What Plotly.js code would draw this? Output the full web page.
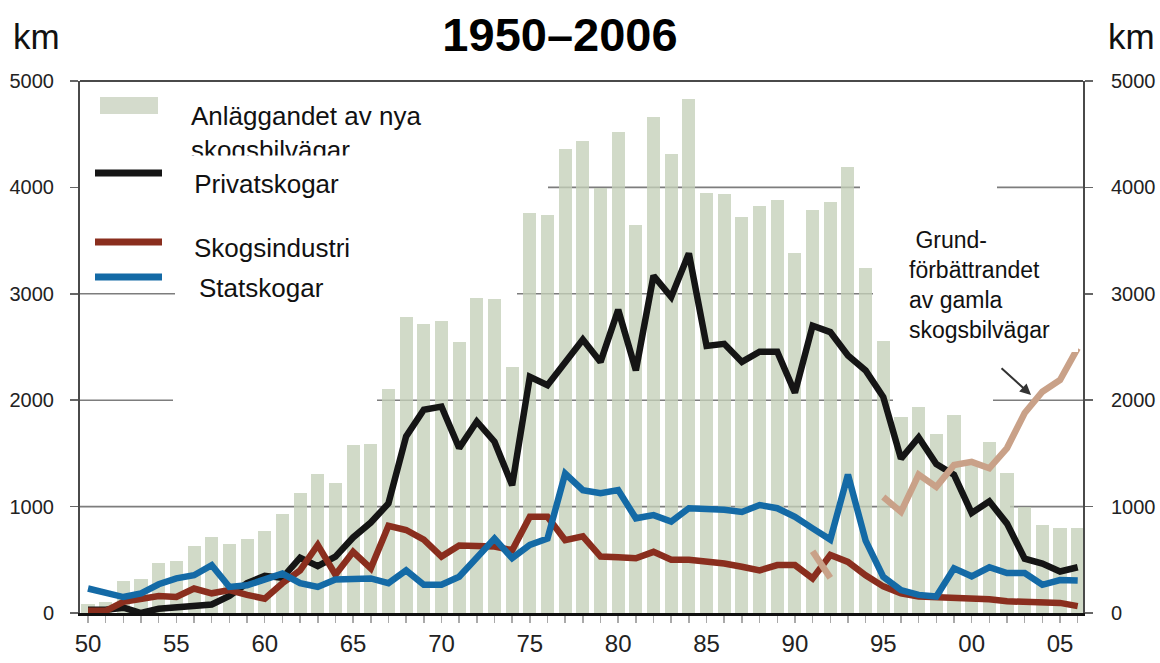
<!DOCTYPE html>
<html>
<head>
<meta charset="utf-8">
<script src="https://cdn.plot.ly/plotly-3.0.1.min.js"></script>
<style>html,body{margin:0;padding:0;background:#fff;}#chart{width:1160px;height:663px;}</style>
</head>
<body>
<div id="chart"></div>
<script>
// ---- data (km per year) ----
const years = [1950,1951,1952,1953,1954,1955,1956,1957,1958,1959,
  1960,1961,1962,1963,1964,1965,1966,1967,1968,1969,
  1970,1971,1972,1973,1974,1975,1976,1977,1978,1979,
  1980,1981,1982,1983,1984,1985,1986,1987,1988,1989,
  1990,1991,1992,1993,1994,1995,1996,1997,1998,1999,
  2000,2001,2002,2003,2004,2005,2006];

// Anläggandet av nya skogsbilvägar (bars)
const newRoads = [80,100,300,320,470,490,630,710,645,700,
  770,935,1125,1310,1225,1580,1590,2110,2785,2715,
  2740,2545,2965,2950,2315,3755,3740,4365,4435,3990,
  4525,3645,4660,4315,4830,3945,3940,3720,3825,3880,
  3380,3790,3865,4195,3240,2560,1840,1940,1680,1860,
  1400,1605,1315,995,830,795,795];

// Privatskogar
const privat = [30,30,50,0,40,50,60,80,160,280,
  350,330,520,440,530,710,850,1030,1660,1910,
  1940,1550,1800,1610,1200,2220,2140,2360,2570,2360,
  2850,2280,3170,2970,3380,2510,2530,2360,2455,2455,
  2070,2700,2640,2420,2280,2030,1450,1650,1400,1300,
  940,1050,840,510,465,390,430];

// Skogsindustri
const industri = [20,20,105,130,160,150,230,185,215,170,
  135,280,400,640,360,575,420,820,780,690,
  530,635,630,625,590,905,905,685,720,530,
  525,515,575,500,500,490,465,435,400,450,
  450,325,545,480,355,250,185,155,150,140,
  130,130,110,105,105,95,65];

// Statskogar
const stat = [230,185,150,185,270,325,355,450,245,260,
  310,370,280,245,315,325,325,280,400,265,
  265,340,530,700,515,640,700,1310,1155,1125,
  1155,890,920,860,985,985,970,950,1015,985,
  905,795,690,1300,680,340,215,170,155,420,
  345,430,375,375,265,310,305];

// Grundförbättrandet av gamla skogsbilvägar
const grund = [null,null,null,null,null,null,null,null,null,null,
  null,null,null,null,null,null,null,null,null,null,
  null,null,null,null,null,null,null,null,null,null,
  null,null,null,null,null,null,null,null,null,null,
  null,580,330,null,null,1090,950,1300,1185,1390,
  1420,1360,1550,1880,2080,2190,2490];

const yTicks = [0,1000,2000,3000,4000,5000];
const xTickText = years.map(y => (y % 5 === 0) ? String(y).slice(2) : '');

// ---- layout helpers (pixel -> paper) ----
const L = 80, R = 1083, T = 81, B = 613;
const X = px => (px - L) / (R - L);
const Y = py => (B - py) / (B - T);

const FONT = 'Liberation Sans, Arial, Helvetica, sans-serif';
const C_BLACK = '#151515', C_RED = '#8a2e1e', C_BLUE = '#146aa6', C_TAN = '#c9a188';
const C_BAR = 'rgba(196,207,184,0.78)';
const LW = 6.5;

const traces = [
  {type:'bar', x:years, y:newRoads, marker:{color:C_BAR, line:{width:0}}, width:0.74,
   hoverinfo:'x+y', name:'Anläggandet av nya skogsbilvägar'},
  {type:'scatter', mode:'lines', x:years, y:privat, line:{color:C_BLACK, width:LW}, name:'Privatskogar'},
  {type:'scatter', mode:'lines', x:years, y:industri, line:{color:C_RED, width:LW}, name:'Skogsindustri'},
  {type:'scatter', mode:'lines', x:years, y:stat, line:{color:C_BLUE, width:LW}, name:'Statskogar'},
  {type:'scatter', mode:'lines', x:years, y:grund, yaxis:'y2', connectgaps:false,
   line:{color:C_TAN, width:LW}, name:'Grundförbättrandet'}
];

// gridline segments (visible parts), x in pixel positions
const gridSegs = [
  [1000, [[80,900],[1010,1083]]],
  [2000, [[80,173],[377,893],[993,1083]]],
  [3000, [[80,175],[517,873]]],
  [4000, [[548,860],[997,1083]]]
];
const shapes = [];
gridSegs.forEach(([v, segs]) => segs.forEach(([a,b]) => shapes.push({
  type:'line', xref:'paper', yref:'y', x0:X(a), x1:X(b), y0:v, y1:v,
  line:{color:'#7d7d7d', width:1.6}, layer:'below'})));
// top frame
shapes.push({type:'line', xref:'paper', yref:'paper', x0:0, x1:1, y0:1, y1:1,
  line:{color:'#4a4a4a', width:2}, layer:'above'});
// legend swatches
shapes.push({type:'rect', xref:'paper', yref:'paper', x0:X(100), x1:X(158), y0:Y(114), y1:Y(97),
  fillcolor:'#d4dbcc', line:{width:0}, layer:'above'});
[[173,C_BLACK],[242,C_RED],[277,C_BLUE]].forEach(([py,c]) => shapes.push({
  type:'line', xref:'paper', yref:'paper', x0:X(95), x1:X(162), y0:Y(py), y1:Y(py),
  line:{color:c, width:7}, layer:'above'}));
// white label box for the annotation on the right
shapes.push({type:'rect', xref:'paper', yref:'paper', x0:X(890), x1:X(1078), y0:Y(352), y1:Y(213),
  fillcolor:'#ffffff', line:{width:0}, layer:'above'});

const tf = {family:FONT, size:26, color:'#111'};
const annotations = [
  {xref:'paper', yref:'paper', x:X(36), y:Y(36), text:'km', showarrow:false,
   font:{family:FONT, size:35, color:'#111'}, xanchor:'center', yanchor:'middle'},
  {xref:'paper', yref:'paper', x:X(1131), y:Y(36), text:'km', showarrow:false,
   font:{family:FONT, size:35, color:'#111'}, xanchor:'center', yanchor:'middle'},
  {xref:'paper', yref:'paper', x:X(189), y:Y(133), text:'Anläggandet av nya<br>skogsbilvägar',
   showarrow:false, font:tf, xanchor:'left', yanchor:'middle', align:'left'},
  {xref:'paper', yref:'paper', x:X(186), y:Y(155), text:'\u00A0Privatskogar',
   showarrow:false, font:tf, xanchor:'left', yanchor:'top', align:'left', valign:'middle',
   width:190, height:56, bgcolor:'#ffffff', borderpad:0},
  {xref:'paper', yref:'paper', x:X(192), y:Y(248), text:'Skogsindustri',
   showarrow:false, font:tf, xanchor:'left', yanchor:'middle', align:'left'},
  {xref:'paper', yref:'paper', x:X(197), y:Y(288), text:'Statskogar',
   showarrow:false, font:tf, xanchor:'left', yanchor:'middle', align:'left'},
  {xref:'paper', yref:'paper', x:X(907), y:Y(285),
   text:'\u00A0Grund-<br>förbättrandet<br>av gamla<br>skogsbilvägar',
   showarrow:false, font:{family:FONT, size:23, color:'#111'}, xanchor:'left', yanchor:'middle', align:'left'},
  {xref:'x', yref:'y', x:2003.36, y:2050, ax:-31, ay:-28, text:'', showarrow:true,
   arrowhead:2, arrowsize:1.1, arrowwidth:2, arrowcolor:'#333'}
];

const axisFont = {family:FONT, size:20, color:'#222'};
const layout = {
  width:1160, height:663,
  margin:{l:L, r:1160-R, t:T, b:663-B, pad:0},
  paper_bgcolor:'#fff', plot_bgcolor:'#fff',
  showlegend:false,
  bargap:0,
  title:{text:'<b>1950–2006</b>', font:{family:FONT, size:47, color:'#000'},
    x:560/1160, xanchor:'center', y:1-35/663, yanchor:'middle', yref:'container'},
  xaxis:{range:[1949.547, 2006.3], tickmode:'array', tickvals:years, ticktext:xTickText,
    ticks:'outside', ticklen:7, tickwidth:1.5, tickcolor:'#aaa',
    showline:true, linecolor:'#111', linewidth:3, showgrid:false, zeroline:false,
    tickfont:{family:FONT, size:24, color:'#222'}},
  yaxis:{range:[0,5000], tickmode:'array', tickvals:yTicks, ticks:'outside', ticklen:8,
    tickwidth:1.5, tickcolor:'#666', showline:true, linecolor:'#4a4a4a', linewidth:2,
    showgrid:false, zeroline:false, tickfont:axisFont, ticklabelstandoff:12},
  yaxis2:{range:[0,5000], overlaying:'y', side:'right', tickmode:'array', tickvals:yTicks,
    ticks:'outside', ticklen:8, tickwidth:1.5, tickcolor:'#666', showline:true,
    linecolor:'#4a4a4a', linewidth:2, showgrid:false, zeroline:false, tickfont:axisFont,
    ticklabelstandoff:14},
  shapes:shapes,
  annotations:annotations
};

Plotly.newPlot('chart', traces, layout, {displayModeBar:false, staticPlot:true});
</script>
</body>
</html>
